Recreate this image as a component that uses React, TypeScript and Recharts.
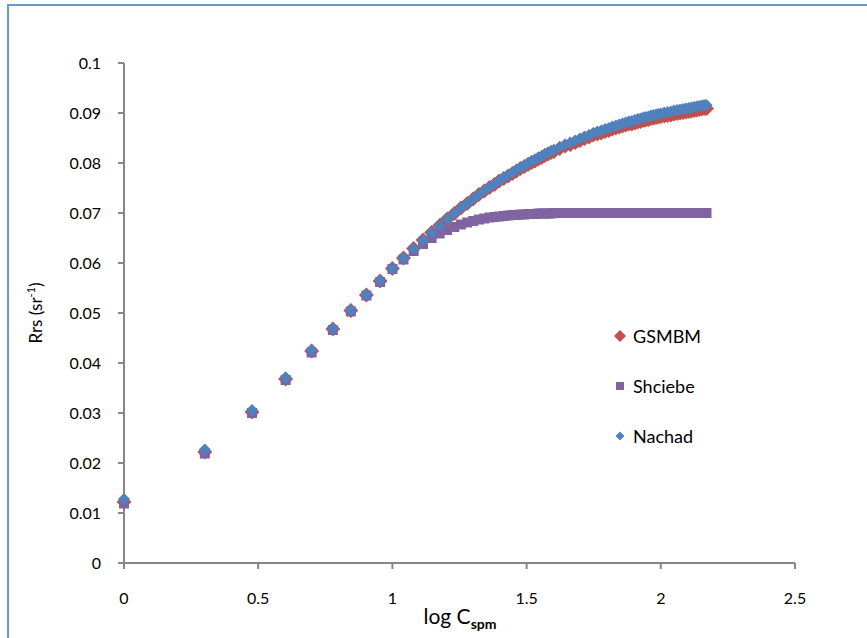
import { ScatterChart, Scatter, XAxis, YAxis } from 'recharts';

// SPM concentration (mg/l) of each modelled point; x is plotted as log10
const conc = [
  1, 2, 3, 4, 5, 6, 7, 8, 9, 10, 11, 12, 13, 14, 15, 16, 17, 18, 19, 20,
  21, 22, 23, 24, 25, 26, 27, 28, 29, 30, 31, 32, 33, 34, 35, 36, 37, 38, 39, 40,
  42, 44, 46, 48, 50, 52, 54, 56, 58, 60, 62, 64, 66, 68, 70, 72, 74, 76, 78, 80,
  82, 84, 86, 88, 90, 92, 94, 96, 98, 100,
  103, 106, 109, 112, 115, 118, 121, 124, 127, 130, 133, 136, 139, 142, 145, 148,
];

const gsmbm = [
  0.0122, 0.0222, 0.0302, 0.0368, 0.0424, 0.0468, 0.0505, 0.0536, 0.0564, 0.0589,
  0.061, 0.0629, 0.0646, 0.0661, 0.0675, 0.0688, 0.0699, 0.071, 0.0719, 0.0728,
  0.0737, 0.0744, 0.0751, 0.0757, 0.0764, 0.0769, 0.0774, 0.0779, 0.0784, 0.0789,
  0.0793, 0.0797, 0.0801, 0.0804, 0.0808, 0.0811, 0.0815, 0.0818, 0.0821, 0.0823,
  0.0829, 0.0834, 0.0837, 0.0841, 0.0845, 0.0849, 0.0852, 0.0856, 0.0858, 0.086,
  0.0863, 0.0865, 0.0868, 0.087, 0.0872, 0.0874, 0.0876, 0.0878, 0.0878, 0.088,
  0.0882, 0.0883, 0.0885, 0.0886, 0.0887, 0.0889, 0.089, 0.0891, 0.0892, 0.0893,
  0.0894, 0.0895, 0.0896, 0.0898, 0.0899, 0.09, 0.0901, 0.0902, 0.0903, 0.0904,
  0.0905, 0.0906, 0.0907, 0.0908, 0.0909, 0.0909,
];

const shciebe = [
  0.0119, 0.0219, 0.03, 0.0366, 0.0421, 0.0466, 0.0503, 0.0535, 0.0562, 0.0588,
  0.0607, 0.0624, 0.0638, 0.065, 0.0659, 0.0666, 0.0672, 0.0677, 0.0681, 0.0684,
  0.0687, 0.0689, 0.0691, 0.0692, 0.0693, 0.0694, 0.0695, 0.0696, 0.0696, 0.0697,
  0.0697, 0.0698, 0.0698, 0.0698, 0.0699, 0.0699, 0.0699, 0.0699, 0.0699, 0.07,
  0.07, 0.07, 0.07, 0.07, 0.07, 0.07, 0.07, 0.07, 0.07, 0.07,
  0.07, 0.07, 0.07, 0.07, 0.07, 0.07, 0.07, 0.07, 0.07, 0.07,
  0.07, 0.07, 0.07, 0.07, 0.07, 0.07, 0.07, 0.07, 0.07, 0.07,
  0.07, 0.07, 0.07, 0.07, 0.07, 0.07, 0.07, 0.07, 0.07, 0.07,
  0.07, 0.07, 0.07, 0.07, 0.07, 0.07,
];

const nachad = [
  0.0128, 0.0227, 0.0306, 0.0371, 0.0426, 0.0469, 0.0506, 0.0537, 0.0565, 0.0589,
  0.061, 0.0629, 0.0646, 0.0661, 0.0675, 0.0688, 0.0699, 0.071, 0.0719, 0.0728,
  0.0737, 0.0745, 0.0752, 0.0758, 0.0765, 0.0771, 0.0776, 0.0781, 0.0786, 0.0791,
  0.0795, 0.08, 0.0804, 0.0807, 0.0811, 0.0814, 0.0818, 0.0821, 0.0824, 0.0826,
  0.0832, 0.0837, 0.0841, 0.0845, 0.0849, 0.0853, 0.0856, 0.086, 0.0863, 0.0865,
  0.0868, 0.087, 0.0873, 0.0875, 0.0877, 0.0879, 0.0881, 0.0883, 0.0884, 0.0886,
  0.0888, 0.0889, 0.0891, 0.0892, 0.0893, 0.0895, 0.0896, 0.0897, 0.0898, 0.0899,
  0.0901, 0.0902, 0.0903, 0.0905, 0.0906, 0.0907, 0.0908, 0.0909, 0.091, 0.0911,
  0.0912, 0.0913, 0.0914, 0.0915, 0.0916, 0.0916,
];

const xTicks = [0, 0.5, 1, 1.5, 2, 2.5];
const yTicks = [0, 0.01, 0.02, 0.03, 0.04, 0.05, 0.06, 0.07, 0.08, 0.09, 0.1];

const RED = '#c0504d';
const PURPLE = '#8064a2';
const BLUE = '#4f81bd';
const AXIS = '#868686';
const FRAME = '#6a98d0';
const FONT = 'Lato, "Open Sans", sans-serif';

const toPoints = (ys: number[]) => conc.map((c, i) => ({ x: Math.log10(c), y: ys[i] }));

const diamond = (r: number, color: string) => (p: any) => (
  <polygon
    points={`${p.cx - r},${p.cy} ${p.cx},${p.cy - r} ${p.cx + r},${p.cy} ${p.cx},${p.cy + r}`}
    fill={color}
  />
);

const square = (r: number, color: string) => (p: any) => (
  <rect x={p.cx - r} y={p.cy - r} width={2 * r} height={2 * r} fill={color} />
);

const legendItems = [
  { name: 'GSMBM', marker: <svg width="14" height="14"><polygon points="1,7 7,1 13,7 7,13" fill={RED} /></svg> },
  { name: 'Shciebe', marker: <svg width="14" height="14"><rect x="3" y="3" width="8" height="8" fill={PURPLE} /></svg> },
  { name: 'Nachad', marker: <svg width="14" height="14"><polygon points="2.5,7 7,2.5 11.5,7 7,11.5" fill={BLUE} /></svg> },
];

export default function App() {
  return (
    <div style={{ position: 'absolute', left: 0, top: 0, width: 867, height: 638, fontFamily: FONT, background: '#fff' }}>
      <ScatterChart width={867} height={638} margin={{ top: 63, right: 72, bottom: 35, left: 64 }}>
        <XAxis
          type="number"
          dataKey="x"
          domain={[0, 2.5]}
          ticks={xTicks}
          height={40}
          tickSize={6}
          tickMargin={24}
          axisLine={{ stroke: AXIS, strokeWidth: 2 }}
          tickLine={{ stroke: AXIS, strokeWidth: 2 }}
          tick={{ fill: '#000', fontSize: 16, fontFamily: FONT }}
          label={{
            content: () => (
              <text x={460} y={624} textAnchor="middle" fill="#000" fontFamily={FONT} fontSize={21}>
                log C
                <tspan fontSize={14} fontWeight="bold" dy={5}>spm</tspan>
              </text>
            ),
          }}
        />
        <YAxis
          type="number"
          dataKey="y"
          domain={[0, 0.1]}
          ticks={yTicks}
          width={60}
          tickSize={6}
          tickMargin={17}
          axisLine={{ stroke: AXIS, strokeWidth: 2 }}
          tickLine={{ stroke: AXIS, strokeWidth: 2 }}
          tick={{ fill: '#000', fontSize: 16, fontFamily: FONT }}
          label={{
            content: () => (
              <text transform="translate(42,313) rotate(-90)" textAnchor="middle" fill="#000" fontFamily={FONT} fontSize={17}>
                Rrs (sr
                <tspan fontSize={11} dy={-7}>-1</tspan>
                <tspan dy={7}>)</tspan>
              </text>
            ),
          }}
        />
        <Scatter name="GSMBM" data={toPoints(gsmbm)} shape={diamond(7.5, RED)} isAnimationActive={false} />
        <Scatter name="Shciebe" data={toPoints(shciebe)} shape={square(5, PURPLE)} isAnimationActive={false} />
        <Scatter name="Nachad" data={toPoints(nachad)} shape={diamond(6, BLUE)} isAnimationActive={false} />
      </ScatterChart>

      <svg width={867} height={638} style={{ position: 'absolute', left: 0, top: 0, zIndex: 2, pointerEvents: 'none' }}>
        <rect x={7} y={4} width={2} height={634} fill={FRAME} />
        <rect x={7} y={4} width={860} height={2} fill={FRAME} />
      </svg>

      <div style={{ position: 'absolute', left: 613, top: 324, zIndex: 3 }}>
        {legendItems.map((it) => (
          <div key={it.name} style={{ display: 'flex', alignItems: 'center', height: 24, marginBottom: 26, fontSize: 18, color: '#000' }}>
            {it.marker}
            <span style={{ marginLeft: 6 }}>{it.name}</span>
          </div>
        ))}
      </div>
    </div>
  );
}
